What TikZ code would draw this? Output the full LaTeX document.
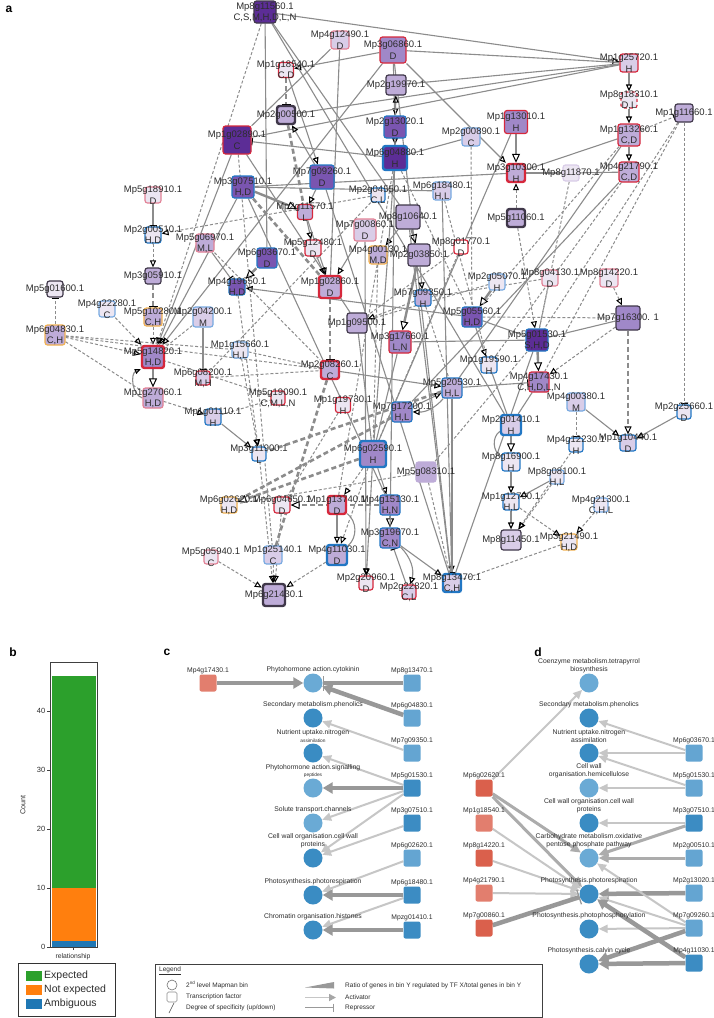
\documentclass[tikz,border=0pt]{standalone}
\usepackage{fontspec}
\setmainfont{Liberation Sans}
\usepackage{tikz}
\usetikzlibrary{arrows.meta,backgrounds}
\pgfdeclarelayer{edgelayer}
\pgfsetlayers{background,edgelayer,main}

\definecolor{pa}{RGB}{236,230,242}
\definecolor{pb}{RGB}{217,205,232}
\definecolor{pc}{RGB}{190,172,216}
\definecolor{pd}{RGB}{160,136,200}
\definecolor{pe}{RGB}{122,85,176}
\definecolor{pf}{RGB}{92,45,150}
\definecolor{bred}{RGB}{214,40,60}
\definecolor{bblue}{RGB}{34,119,196}
\definecolor{bdark}{RGB}{64,56,74}
\definecolor{borange}{RGB}{242,178,80}
\definecolor{bpink}{RGB}{226,130,150}
\definecolor{blight}{RGB}{120,170,225}
\definecolor{txt}{RGB}{45,45,45}
\definecolor{egray}{RGB}{140,140,140}
\definecolor{binlight}{RGB}{106,170,213}
\definecolor{bindark}{RGB}{58,140,195}
\definecolor{tflight}{RGB}{100,165,210}
\definecolor{tfdark}{RGB}{60,140,195}
\definecolor{tfred}{RGB}{218,96,76}
\definecolor{tfsalmon}{RGB}{226,126,110}
\definecolor{lgray}{RGB}{198,198,198}
\definecolor{mgray}{RGB}{172,172,172}
\definecolor{dgray}{RGB}{152,152,152}
\definecolor{mplgreen}{RGB}{44,160,44}
\definecolor{mplorange}{RGB}{255,127,14}
\definecolor{mplblue}{RGB}{31,119,180}

% gene box: name, x, y, look, size, gene id, specificity
\newcommand{\gene}[7]{%
  \node[gbox,#4,minimum size=#5pt] (#1) at (#2,#3) {};
  \if\relax\detokenize{#7}\relax
    \node[gname] at (#1.center) {#6};
  \else
    \node[gname] at ([yshift=5pt]#1.center) {#6};
    \node[gname] at ([yshift=-6pt]#1.center) {#7};
  \fi}

\begin{document}
\begin{tikzpicture}[x=1pt,y=-1pt,
  gbox/.style={rectangle,rounded corners=2.5pt,draw,line width=1.2pt,inner sep=0pt},
  gname/.style={font=\fontsize{9.5}{10}\selectfont,text=txt,inner sep=0pt},
  f1/.style={fill=pa}, f2/.style={fill=pb}, f3/.style={fill=pc},
  f4/.style={fill=pd}, f5/.style={fill=pe}, f6/.style={fill=pf}, fw/.style={fill=white},
  rd/.style={draw=bred}, bl/.style={draw=bblue}, dk/.style={draw=bdark},
  og/.style={draw=borange}, pk/.style={draw=bpink}, lb/.style={draw=blight},
  nb/.style={draw=pc}, tk/.style={line width=2.4pt},
  sol/.style={draw=egray,line width=1.1pt},
  solA/.style={sol,-{Triangle[open,length=7pt,width=6pt,color=black]}},
  solR/.style={sol,-{Bar[width=7pt,color=black]}},
  solT/.style={draw=egray,line width=2.4pt,-{Triangle[open,length=9pt,width=8pt,color=black,line width=1pt]}},
  dsh/.style={draw=egray,line width=1pt,dash pattern=on 3pt off 2pt},
  dshA/.style={dsh,-{Triangle[open,length=7pt,width=6pt,color=black]}},
  dshR/.style={dsh,-{Bar[width=7pt,color=black]}},
  dshW/.style={draw=egray,line width=2.6pt,dash pattern=on 5pt off 3pt},
  dshWA/.style={dshW,-{Triangle[open,length=9pt,width=8pt,color=black,line width=1pt]}},
  dshWR/.style={dshW,-{Bar[width=9pt,color=black,line width=1pt]}},
  tag/.style={font=\bfseries\fontsize{12}{12}\selectfont,inner sep=0pt},
  bin/.style={circle,minimum size=19pt,inner sep=0pt,label distance=3pt},
  binL/.style={bin,fill=binlight}, binD/.style={bin,fill=bindark},
  tf/.style={rectangle,rounded corners=2pt,minimum size=17pt,inner sep=0pt,label distance=3pt},
  clab/.style={font=\fontsize{6.8}{7.6}\selectfont,text=txt,align=center,inner sep=0.5pt},
  clt/.style={draw=lgray,line width=2pt,-{Triangle[length=9pt,width=8pt]}},
  cmd/.style={draw=mgray,line width=3pt,-{Triangle[length=10pt,width=9pt]}},
  cdk/.style={draw=dgray,line width=4.5pt,-{Triangle[length=10pt,width=11pt]}},
  crp/.style={draw=dgray,line width=4.5pt,-{Bar[width=15pt,line width=1.3pt]}},
  leg/.style={font=\fontsize{6.5}{7}\selectfont,text=txt,anchor=west,inner sep=0pt},
]
\useasboundingbox (0,0) rectangle (714,1018);
\begin{pgfonlayer}{background}
  \fill[white] (0,0) rectangle (714,1018);
\end{pgfonlayer}

%% panel a
\node[tag] (taga) at (9,9) {a};
\gene{g8g11560}{265}{12}{f6,dk}{22}{Mp8g11560.1}{C,S,M,H,D,L,N}
\gene{g4g12490}{340}{40}{f2,pk}{18}{Mp4g12490.1}{D}
\gene{g1g18540}{286}{70}{f1,rd}{15}{Mp1g18540.1}{C,D}
\gene{g2g00500}{286}{115}{f3,dk,tk}{18}{Mp2g00500.1}{}
\gene{g1g02890}{237}{140}{f6,rd}{28}{Mp1g02890.1}{C}
\gene{g3g07510}{243}{187}{f5,bl}{22}{Mp3g07510.1}{H,D}
\gene{g7g09260}{322}{177}{f5,bl}{24}{Mp7g09260.1}{D}
\gene{g5g18910}{153}{195}{f1,pk}{16}{Mp5g18910.1}{D}
\gene{g2g11570}{305}{212}{f3,rd}{15}{Mp2g11570.1}{L}
\gene{g3g06860}{393}{50}{f4,rd}{26}{Mp3g06860.1}{D}
\gene{g2g19970}{396}{85}{f3,dk}{20}{Mp2g19970.1}{}
\gene{g2g13020}{395}{127}{f5,bl}{22}{Mp2g13020.1}{D}
\gene{g6g04880}{395}{158}{f6,bl,tk}{24}{Mp6g04880.1}{H}
\gene{g2g00890}{471}{137}{f2,lb}{18}{Mp2g00890.1}{C}
\gene{g1g13010}{516}{122}{f4,rd}{23}{Mp1g13010.1}{H}
\gene{g3g10300}{516}{173}{f3,rd,tk}{18}{Mp3g10300.1}{H}
\gene{g8g11870}{571}{173}{f1,draw=pb}{16}{Mp8g11870.1}{}
\gene{g1g25720}{629}{63}{f2,rd}{18}{Mp1g25720.1}{H}
\gene{g8g18310}{629}{100}{f1,rd,dashed}{16}{Mp8g18310.1}{D,L}
\gene{g1g13260}{629}{135}{f3,rd}{22}{Mp1g13260.1}{C,D}
\gene{g4g21790}{629}{172}{f3,rd}{20}{Mp4g21790.1}{C,D}
\gene{g1g11660}{684}{113}{f3,dk}{18}{Mp1g11660.1}{}
\gene{g6g18480}{442}{191}{f2,lb}{18}{Mp6g18480.1}{H,L}
\gene{g2g04550}{378}{195}{f1,bl}{14}{Mp2g04550.1}{C,L}
\gene{g8g10640}{408}{217}{f3,dk}{24}{Mp8g10640.1}{}
\gene{g5g11060}{516}{218}{f3,dk,tk}{18}{Mp5g11060.1}{}
\gene{g7g00860}{365}{230}{f2,pk}{22}{Mp7g00860.1}{D}
\gene{g5g12480}{313}{248}{f1,rd}{16}{Mp5g12480.1}{D}
\gene{g6g03670}{267}{258}{f5,bl}{20}{Mp6g03670.1}{D}
\gene{g5g06970}{205}{243}{f3,pk}{18}{Mp5g06970.1}{M,L}
\gene{g4g00130}{378}{255}{f3,og}{18}{Mp4g00130.1}{M,D}
\gene{g2g03850}{419}{255}{f3,dk}{22}{Mp2g03850.1}{}
\gene{g8g01770}{461}{247}{fw,rd}{14}{Mp8g01770.1}{D}
\gene{g4g19650}{237}{287}{f5,bl}{16}{Mp4g19650.1}{H,D}
\gene{g1g02860}{330}{287}{f3,rd,tk}{22}{Mp1g02860.1}{D}
\gene{g7g09350}{423}{298}{f3,bl}{16}{Mp7g09350.1}{H}
\gene{g2g04200}{203}{317}{f2,lb}{20}{Mp2g04200.1}{M}
\gene{g1g09500}{357}{323}{f3,dk}{20}{Mp1g09500.1}{}
\gene{g3g17660}{400}{342}{f4,rd}{22}{Mp3g17660.1}{L,N}
\gene{g5g05560}{472}{317}{f5,bl}{20}{Mp5g05560.1}{H,D}
\gene{g1g15660}{240}{350}{f1,lb}{16}{Mp1g15660.1}{H,L}
\gene{g2g08260}{330}{370}{f3,rd,tk}{18}{Mp2g08260.1}{C}
\gene{g6g08200}{203}{378}{f2,rd}{14}{Mp6g08200.1}{M,H}
\gene{g5g19090}{278}{398}{f1,rd}{14}{Mp5g19090.1}{C,M,L,N}
\gene{g1g19730}{343}{405}{f1,rd}{15}{Mp1g19730.1}{H}
\gene{g5g20530}{452}{388}{f3,bl}{20}{Mp5g20530.1}{H,L}
\gene{g7g17200}{402}{412}{f4,bl}{20}{Mp7g17200.1}{H,L}
\gene{g1g01110}{213}{417}{f2,bl}{16}{Mp1g01110.1}{H}
\gene{g3g11900}{259}{454}{f1,bl}{14}{Mp3g11900.1}{L}
\gene{g6g02590}{373}{454}{f4,bl,tk}{26}{Mp6g02590.1}{H}
\gene{g5g08310}{426}{472}{f3,nb}{20}{Mp5g08310.1}{}
\gene{g2g00510}{153}{235}{f1,bl}{16}{Mp2g00510.1}{H,D}
\gene{g3g05910}{153}{276}{f3,dk}{16}{Mp3g05910.1}{}
\gene{g5g01600}{55}{289}{f1,dk}{16}{Mp5g01600.1}{}
\gene{g4g22280}{107}{309}{f1,lb}{16}{Mp4g22280.1}{C}
\gene{g5g10280}{153}{317}{f3,og}{18}{Mp5g10280.1}{C,H}
\gene{g6g04830}{55}{335}{f3,og}{20}{Mp6g04830.1}{C,H}
\gene{g5g14820}{153}{357}{f4,rd,tk}{22}{Mp5g14820.1}{H,D}
\gene{g1g27060}{153}{398}{f3,pk}{20}{Mp1g27060.1}{H,D}
\gene{g2g05070}{497}{282}{f1,lb}{16}{Mp2g05070.1}{H}
\gene{g8g04130}{550}{278}{f1,pk}{16}{Mp8g04130.1}{D}
\gene{g8g14220}{609}{278}{f1,pk}{18}{Mp8g14220.1}{D}
\gene{g7g16300}{628}{318}{f4,dk}{24}{Mp7g16300. 1}{}
\gene{g5g01530}{537}{340}{f6,bl}{22}{Mp5g01530.1}{S,H,D}
\gene{g1g19590}{489}{365}{f1,bl}{16}{Mp1g19590.1}{H}
\gene{g4g17430}{539}{382}{f4,rd}{20}{Mp4g17430.1}{C,H,D,L,N}
\gene{g4g00380}{576}{402}{f2,lb}{18}{Mp4g00380.1}{M}
\gene{g2g25660}{684}{412}{f1,bl}{14}{Mp2g25660.1}{D}
\gene{g2g01410}{511}{425}{f2,bl,tk}{20}{Mp2g01410.1}{H}
\gene{g4g12230}{576}{445}{f1,bl}{14}{Mp4g12230.1}{H}
\gene{g1g10440}{628}{443}{f2,bl}{16}{Mp1g10440.1}{D}
\gene{g8g16900}{511}{462}{f1,bl}{18}{Mp8g16900.1}{H}
\gene{g8g08100}{557}{477}{f1,lb}{14}{Mp8g08100.1}{H,L}
\gene{g4g15130}{390}{505}{f4,bl}{20}{Mp4g15130.1}{H,N}
\gene{g1g12790}{511}{502}{f1,bl}{16}{Mp1g12790.1}{H,L}
\gene{g4g21300}{601}{505}{f1,lb}{14}{Mp4g21300.1}{C,H,L}
\gene{g3g19670}{390}{538}{f4,bl}{20}{Mp3g19670.1}{C,N}
\gene{g8g11450}{511}{540}{f2,dk}{20}{Mp8g11450.1}{}
\gene{g3g21490}{569}{542}{f1,og}{16}{Mp3g21490.1}{H,D}
\gene{g2g20960}{366}{583}{f1,rd}{14}{Mp2g20960.1}{D}
\gene{g2g22820}{409}{592}{f2,rd}{14}{Mp2g22820.1}{C,L}
\gene{g8g13470}{452}{583}{f2,bl,tk}{18}{Mp8g13470.1}{C,H}
\gene{g6g02620}{229}{505}{f1,og}{16}{Mp6g02620.1}{H,D}
\gene{g6g04650}{282}{505}{f1,rd}{16}{Mp6g04650.1}{D}
\gene{g1g13740}{337}{505}{f3,rd,tk}{18}{Mp1g13740.1}{D}
\gene{g5g05940}{211}{557}{f1,pk}{14}{Mp5g05940.1}{C}
\gene{g1g25140}{273}{555}{f2,lb}{18}{Mp1g25140.1}{C}
\gene{g4g11030}{337}{555}{f3,bl,tk}{20}{Mp4g11030.1}{D}
\gene{g6g21430}{274}{595}{f3,dk,tk}{22}{Mp6g21430.1}{}

\begin{pgfonlayer}{edgelayer}
% solid links
\draw[solA] (g8g11560) -- (g1g25720);
\draw[sol] (g8g11560) -- (g6g03670);
\draw[sol] (g8g11560) -- (g8g10640);
\draw[solA] (g3g06860) -- (g1g18540);
\draw[sol] (g4g12490) -- (g1g02860);
\draw[sol] (g4g12490) -- (g1g02890);
\draw[solA] (g3g06860) -- (g3g10300);
\draw[sol] (g3g06860) -- (g1g25720);
\draw[solA] (g3g06860) -- (g5g14820);
\draw[sol] (g3g06860) -- (g2g13020);
\draw[sol] (g3g06860) -- (g8g13470);
\draw[solA] (g2g19970) -- (g2g13020);
\draw[sol] (g2g19970) -- (g1g25720);
\draw[solA] (g2g13020) -- (g6g04880);
\draw[solA] (g1g25720) -- (g8g18310);
\draw[solA] (g8g18310) -- (g1g13260);
\draw[solA] (g1g13260) -- (g4g21790);
\draw[solT] (g1g13010) -- (g3g10300);
\draw[sol] (g3g10300) -- (g8g11870);
\draw[sol] (g8g11870) -- (g4g21790);
\draw[sol] (g3g10300) -- (g1g13260);
\draw[sol] (g3g10300) -- (g3g07510);
\draw[sol] (g2g00890) -- (g6g04880);
\draw[sol] (g2g00500) -- (g1g25720);
\draw[sol] (g1g02890) -- (g1g25720);
\draw[solA] (g1g18540) -- (g7g09260);
\draw[solA] (g7g09260) -- (g2g00500);
\draw[solA] (g7g09260) -- (g2g11570);
\draw[solR] (g6g04880) -- (g1g02890);
\draw[solT] (g3g07510) -- (g2g11570);
\draw[solA] (g3g07510) -- (g5g14820);
\draw[solA] (g1g02890) -- (g5g14820);
\draw[sol] (g1g02890) -- (g1g09500);
\draw[solR] (g5g18910) -- (g2g00510);
\draw[solT] (g5g14820) -- (g1g27060);
\draw[sol,-{Triangle[open,length=6pt,width=5pt,color=black]}] (g1g27060.west) to[bend left=70] (g5g14820.south west);
\draw[solR] (g2g04200) -- (g6g08200);
\draw[solA] (g1g01110) -- (g3g11900);
\draw[solR] (g5g06970) -- (g4g19650);
\draw[solT] (g6g03670) -- (g4g19650);
\draw[solA] (g2g11570) -- (g5g12480);
\draw[solA] (g2g11570) -- (g1g02860);
\draw[solA] (g7g00860) -- (g1g02860);
\draw[solA] (g5g12480) -- (g1g02860);
\draw[solA] (g5g05560) -- (g4g19650);
\draw[solT] (g8g10640) -- (g2g03850);
\draw[solA] (g8g10640) -- (g4g00130);
\draw[solA] (g2g03850) -- (g7g09350);
\draw[solT] (g2g03850) -- (g3g17660);
\draw[sol] (g1g09500) -- (g6g02590);
\draw[solA] (g2g08260) -- (g5g20530);
\draw[solA] (g5g20530) to[bend left=25] (g7g17200);
\draw[solA] (g7g17200) -- (g5g20530);
\draw[solA] (g6g02590) -- (g4g15130);
\draw[solT] (g4g15130) -- (g3g19670);
\draw[solR] (g2g22820) -- (g3g19670);
\draw[solA] (g3g19670) to[bend left=30] (g2g22820);
\draw[solA] (g3g19670) -- (g8g13470);
\draw[solA] (g6g02590) -- (g2g20960);
\draw[solA] (g7g00860) -- (g2g20960);
\draw[solA] (g6g18480) -- (g8g13470);
\draw[sol] (g8g10640) -- (g8g13470);
\draw[solR] (g5g20530) -- (g8g13470);
\draw[solT] (g2g01410) -- (g8g16900);
\draw[solA] (g8g16900) -- (g1g12790);
\draw[solA] (g1g12790) -- (g8g11450);
\draw[solA] (g8g08100) -- (g1g12790);
\draw[solA] (g4g00380) -- (g1g10440);
\draw[solA] (g2g25660) -- (g1g10440);
\draw[sol] (g5g01530) -- (g7g16300);
\draw[solT] (g5g01530) -- (g4g17430);
\draw[sol] (g5g05560) -- (g5g01530);
\draw[solT] (g2g05070) -- (g5g05560);
\draw[solA] (g5g05560) -- (g1g19590);
\draw[solR] (g5g20530) -- (g4g17430);
\draw[sol] (g4g17430) -- (g2g01410);
\draw[sol] (g1g19590) -- (g2g01410);
\draw[solA] (g1g13740) -- (g4g11030);
\draw[sol] (g1g13740) to[bend left=50] (g4g11030);
\draw[sol] (g3g17660) -- (g6g02590);
\draw[sol] (g3g17660) -- (g5g01530);
\draw[sol] (g6g04880) -- (g6g02590);
\draw[sol] (g2g13020) -- (g3g19670);
\draw[sol] (g7g09260) -- (g8g13470);
\draw[sol] (g3g07510) -- (g4g15130);
\draw[sol] (g5g01530) -- (g8g13470);
\draw[sol] (g6g18480) -- (g3g07510);
\draw[sol] (g1g13260) -- (g5g20530);
\draw[sol] (g4g21790) -- (g7g17200);
\draw[sol] (g1g13010) -- (g6g02590);
\draw[sol] (g8g11560) -- (g2g01410);
\draw[sol] (g2g01410) to[bend right=60] (g8g16900);
% dashed links
\draw[dshA] (g8g11560) -- (g5g14820);
\draw[dshR] (g1g11660) -- (g2g25660);
\draw[dshR] (g1g13260) -- (g1g11660);
\draw[dsh] (g1g11660) -- (g5g01530);
\draw[dsh] (g1g11660) -- (g4g17430);
\draw[dshWR] (g1g18540) -- (g2g00500);
\draw[dsh] (g2g00890) -- (g5g05560);
\draw[dshA] (g5g11060) -- (g5g01530);
\draw[dshA] (g5g11060) -- (g3g10300);
\draw[dshA] (g2g00510) -- (g3g05910);
\draw[dshWR] (g3g05910) -- (g5g10280);
\draw[dshA] (g5g10280) -- (g5g14820);
\draw[dshR] (g6g04830) -- (g5g01600);
\draw[dshA] (g6g04830) -- (g5g14820);
\draw[dsh] (g6g04830) -- (g1g15660);
\draw[dsh] (g6g04830) -- (g2g08260);
\draw[dsh] (g6g04830) -- (g1g27060);
\draw[dshA] (g4g22280) -- (g5g14820);
\draw[dshA] (g2g04550) -- (g2g00510);
\draw[dshA] (g1g27060) -- (g1g01110);
\draw[dshA] (g1g15660) -- (g3g11900);
\draw[dshA] (g4g19650) -- (g3g11900);
\draw[dshWR] (g1g02860) -- (g2g08260);
\draw[dshW] (g2g00500) -- (g2g11570);
\draw[dshWA] (g6g02590) -- (g6g02620);
\draw[dshWA] (g4g15130) -- (g6g04650);
\draw[dshW] (g5g20530) -- (g3g11900);
\draw[dsh] (g6g04880) -- (g1g13740);
\draw[dshA] (g6g04650) -- (g6g21430);
\draw[dshA] (g5g05940) -- (g6g21430);
\draw[dshA] (g1g25140) -- (g6g21430);
\draw[dshA] (g4g11030) -- (g6g21430);
\draw[dshA] (g3g11900) -- (g6g21430);
\draw[dshA] (g6g02590) -- (g4g11030);
\draw[dshA] (g6g02590) -- (g1g13740);
\draw[dshA] (g8g14220) -- (g7g16300);
\draw[dshW,-{Triangle[open,length=8pt,width=7pt,color=black,line width=1pt]}] (g7g16300) -- (g1g10440);
\draw[dsh] (g7g16300) -- (g5g05560);
\draw[dshA] (g7g16300) -- (g4g17430);
\draw[dshR] (g4g00380) -- (g4g12230);
\draw[dshA] (g4g12230) -- (g8g11450);
\draw[dshA] (g8g08100) -- (g8g11450);
\draw[dshA] (g4g21300) -- (g3g21490);
\draw[dshA] (g1g12790) -- (g3g21490);
\draw[dsh] (g3g21490) -- (g8g13470);
\draw[dsh] (g8g04130) -- (g5g01530);
\draw[dsh] (g8g04130) -- (g7g09350);
\draw[dsh] (g2g05070) -- (g1g09500);
\draw[dsh] (g5g08310) -- (g8g13470);
\draw[dsh] (g5g08310) -- (g5g01530);
\draw[dsh] (g5g08310) -- (g6g02620);
\draw[dsh] (g1g19730) -- (g6g04650);
\draw[dsh] (g5g19090) -- (g5g14820);
\draw[dsh] (g6g08200) -- (g2g08260);
\draw[dsh] (g1g15660) -- (g2g08260);
\draw[dsh] (g1g01110) -- (g5g19090);
\draw[dsh] (g8g01770) -- (g1g09500);
\draw[dsh] (g8g01770) -- (g6g02590);
\draw[dsh] (g4g00130) -- (g6g02590);
\draw[dshA] (g7g09350) -- (g1g09500);
\draw[dsh] (g7g09350) -- (g5g20530);
\draw[dsh] (g2g04200) -- (g5g14820);
\draw[dsh] (g4g21790) -- (g1g19590);
\draw[dsh] (g1g13260) -- (g5g05560);
\draw[dsh] (g8g11870) -- (g5g01530);
\draw[dsh] (g6g18480) -- (g1g19590);
\draw[dsh] (g2g04550) -- (g6g08200);
\draw[dsh] (g5g06970) -- (g2g08260);
\draw[dshA] (g6g04880) -- (g2g19970);
\draw[dsh] (g6g04880) -- (g5g05560);
\draw[dshW] (g3g07510) -- (g1g02860);
\draw[dshW] (g2g08260) -- (g1g25140);
\draw[dshW] (g7g17200) -- (g6g02620);
\draw[dsh] (g1g02890) -- (g1g25140);
\end{pgfonlayer}

%% panel b
\node[tag] (tagb) at (13,652) {b};
\fill[mplblue] (52,947) rectangle (96,941.1);
\fill[mplorange] (52,941.1) rectangle (96,888);
\fill[mplgreen] (52,888) rectangle (96,675.6);
\draw[black!75,line width=0.7pt] (50,662) rectangle (97,947);
\foreach \v in {0,10,20,30,40} {
  \draw[black!75,line width=0.7pt] (50,947-5.9*\v) -- (47,947-5.9*\v);
  \node[font=\fontsize{7.5}{8}\selectfont,text=txt,anchor=east,inner sep=0pt] at (45.5,947-5.9*\v) {\v};
}
\draw[black!75,line width=0.7pt] (73,947) -- (73,950);
\node[font=\fontsize{6.8}{7}\selectfont,text=txt,inner sep=0pt] (xlab) at (73,957) {relationship};
\node[font=\fontsize{7.2}{8}\selectfont,text=txt,rotate=90,inner sep=0pt] (ylab) at (23,805) {Count};
\draw[black!80,line width=0.7pt] (18,963) rectangle (115,1016);
\fill[mplgreen] (26,971) rectangle (42,981);
\fill[mplorange] (26,985) rectangle (42,995);
\fill[mplblue] (26,999) rectangle (42,1009);
\node[font=\fontsize{10.5}{11}\selectfont,text=txt,anchor=west,inner sep=0pt] (kexp) at (44,976) {Expected};
\node[font=\fontsize{10.5}{11}\selectfont,text=txt,anchor=west,inner sep=0pt] (knot) at (44,990) {Not expected};
\node[font=\fontsize{10.5}{11}\selectfont,text=txt,anchor=west,inner sep=0pt] (kamb) at (44,1004) {Ambiguous};

%% panel c
\node[tag] (tagc) at (167,652) {c};
\node[binL,label={[clab]above:Phytohormone action.cytokinin}] (ccyto) at (313,683) {};
\node[binD,label={[clab]above:Secondary metabolism.phenolics}] (cphen) at (313,718) {};
\node[binD,label={[clab]above:Nutrient uptake.nitrogen\\{\fontsize{4.8}{5}\selectfont assimilation}}] (cnit) at (313,753) {};
\node[binL,label={[clab]above:Phytohormone action.signalling\\{\fontsize{4.8}{5}\selectfont peptides}}] (csig) at (313,788) {};
\node[binL,label={[clab]above:Solute transport.channels}] (csol) at (313,823) {};
\node[binD,label={[clab]above:Cell wall organisation.cell wall\\proteins}] (ccw) at (313,858) {};
\node[binD,label={[clab]above:Photosynthesis.photorespiration}] (cphr) at (313,895) {};
\node[binD,label={[clab]above:Chromatin organisation.histones}] (chis) at (313,930) {};
\node[tf,fill=tfsalmon,label={[clab]above:Mp4g17430.1}] (c4g17430) at (208,683) {};
\node[tf,fill=tflight,label={[clab]above:Mp8g13470.1}] (c8g13470) at (412,683) {};
\node[tf,fill=tflight,label={[clab]above:Mp6g04830.1}] (c6g04830) at (412,718) {};
\node[tf,fill=tflight,label={[clab]above:Mp7g09350.1}] (c7g09350) at (412,753) {};
\node[tf,fill=tfdark,label={[clab]above:Mp5g01530.1}] (c5g01530) at (412,788) {};
\node[tf,fill=tfdark,label={[clab]above:Mp3g07510.1}] (c3g07510) at (412,823) {};
\node[tf,fill=tflight,label={[clab]above:Mp6g02620.1}] (c6g02620) at (412,858) {};
\node[tf,fill=tfdark,label={[clab]above:Mp6g18480.1}] (c6g18480) at (412,895) {};
\node[tf,fill=tfdark,label={[clab]above:Mpzg01410.1}] (c2g01410) at (412,930) {};
\begin{pgfonlayer}{edgelayer}
\draw[cdk] (c4g17430) -- (ccyto);
\draw[crp] (c8g13470) -- (ccyto);
\draw[cdk] (c6g04830) -- (ccyto);
\draw[clt] (c7g09350) -- (cphen);
\draw[clt] (c5g01530) -- (cnit);
\draw[cdk] (c5g01530) -- (csig);
\draw[clt] (c5g01530) -- (csol);
\draw[clt] (c5g01530) -- (ccw);
\draw[clt] (c3g07510) -- (ccw);
\draw[clt] (c6g02620) -- (cphr);
\draw[cdk] (c6g18480) -- (cphr);
\draw[clt] (c6g18480) -- (chis);
\draw[cdk] (c2g01410) -- (chis);
\end{pgfonlayer}

%% panel d
\node[tag] (tagd) at (538,652) {d};
\node[binL,label={[clab]above:Coenzyme metabolism.tetrapyrrol\\biosynthesis}] (dcoe) at (589,683) {};
\node[binD,label={[clab]above:Secondary metabolism.phenolics}] (dphen) at (589,718) {};
\node[binD,label={[clab]above:Nutrient uptake.nitrogen\\assimilation}] (dnit) at (589,753) {};
\node[binL,label={[clab]above:Cell wall\\organisation.hemicellulose}] (dhemi) at (589,788) {};
\node[binD,label={[clab]above:Cell wall organisation.cell wall\\proteins}] (dcw) at (589,823) {};
\node[binL,label={[clab]above:Carbohydrate metabolism.oxidative\\pentose phosphate pathway}] (dpent) at (589,858) {};
\node[binD,label={[clab]above:Photosynthesis.photorespiration}] (dphr) at (589,894) {};
\node[binD,label={[clab]above:Photosynthesis.photophosphorylation}] (dpho) at (589,929) {};
\node[binD,label={[clab]above:Photosynthesis.calvin cycle}] (dcal) at (589,964) {};
\node[tf,fill=tfred,label={[clab]above:Mp6g02620.1}] (d6g02620) at (484,788) {};
\node[tf,fill=tfsalmon,label={[clab]above:Mp1g18540.1}] (d1g18540) at (484,823) {};
\node[tf,fill=tfred,label={[clab]above:Mp8g14220.1}] (d8g14220) at (484,858) {};
\node[tf,fill=tfsalmon,label={[clab]above:Mp4g21790.1}] (d4g21790) at (484,893) {};
\node[tf,fill=tfred,label={[clab]above:Mp7g00860.1}] (d7g00860) at (484,928) {};
\node[tf,fill=tflight,label={[clab]above:Mp6g03670.1}] (d6g03670) at (694,753) {};
\node[tf,fill=tflight,label={[clab]above:Mp5g01530.1}] (d5g01530) at (694,788) {};
\node[tf,fill=tfdark,label={[clab]above:Mp3g07510.1}] (d3g07510) at (694,823) {};
\node[tf,fill=tflight,label={[clab]above:Mp2g00510.1}] (d2g00510) at (694,858) {};
\node[tf,fill=tflight,label={[clab]above:Mp2g13020.1}] (d2g13020) at (694,893) {};
\node[tf,fill=tflight,label={[clab]above:Mp7g09260.1}] (d7g09260) at (694,928) {};
\node[tf,fill=tfdark,label={[clab]above:Mp4g11030.1}] (d4g11030) at (694,963) {};
\begin{pgfonlayer}{edgelayer}
\draw[clt] (d6g02620) -- (dcoe);
\draw[cmd] (d6g02620) -- (dpent);
\draw[cmd] (d6g02620) -- (dphr);
\draw[clt] (d1g18540) -- (dphr);
\draw[clt] (d8g14220) -- (dphr);
\draw[clt] (d4g21790) -- (dphr);
\draw[crp] (d7g00860) -- (dphr);
\draw[clt] (d6g03670) -- (dphen);
\draw[clt] (d6g03670) -- (dnit);
\draw[clt] (d5g01530) -- (dnit);
\draw[clt] (d5g01530) -- (dhemi);
\draw[clt] (d3g07510) -- (dcw);
\draw[cmd] (d3g07510) -- (dpent);
\draw[cmd] (d2g00510) -- (dpent);
\draw[cdk] (d2g13020) -- (dphr);
\draw[clt] (d7g09260) -- (dpho);
\draw[clt] (d7g09260) -- (dphr);
\draw[clt] (d7g09260) -- (dpent);
\draw[cdk] (d7g09260) -- (dcal);
\draw[cdk] (d4g11030) -- (dcal);
\draw[cdk] (d4g11030) -- (dphr);
\end{pgfonlayer}

%% legend
\draw[black!75,line width=0.8pt] (155,964) rectangle (542,1017);
\node[leg] (legt) at (159,970.5) {\underline{Legend}};
\node[circle,draw=black!55,line width=0.6pt,minimum size=10pt,inner sep=0pt] (kbin) at (172,985) {};
\node[rectangle,rounded corners=1.5pt,draw=black!45,line width=0.6pt,minimum size=10pt,inner sep=0pt] (ktf) at (172,997) {};
\coordinate (ks1) at (169,1013);
\coordinate (ks2) at (174,1003);
\draw[black!70,line width=0.6pt] (ks1) -- (ks2);
\node[leg] (kbint) at (186,985) {2\textsuperscript{nd} level Mapman bin};
\node[leg] (ktft) at (186,996.5) {Transcription factor};
\node[leg] (kst) at (186,1008) {Degree of specificity (up/down)};
\fill[black!40] (305,987.5) -- (334,982) -- (334,988.5) -- cycle;
\coordinate (ka1) at (305,997.5);
\coordinate (ka2) at (336,997.5);
\draw[draw=lgray,line width=1.6pt,-{Triangle[length=7pt,width=7pt,color=black!35]}] (ka1) -- (ka2);
\coordinate (kr1) at (305,1007.5);
\coordinate (kr2) at (334,1007.5);
\draw[draw=black!40,line width=1.2pt,-{Bar[width=8pt]}] (kr1) -- (kr2);
\node[leg] (kratio) at (345,986) {Ratio of genes in bin Y regulated by TF X/total genes in bin Y};
\node[leg] (kact) at (345,997.5) {Activator};
\node[leg] (krep) at (345,1007.5) {Repressor};
\end{tikzpicture}
\end{document}
